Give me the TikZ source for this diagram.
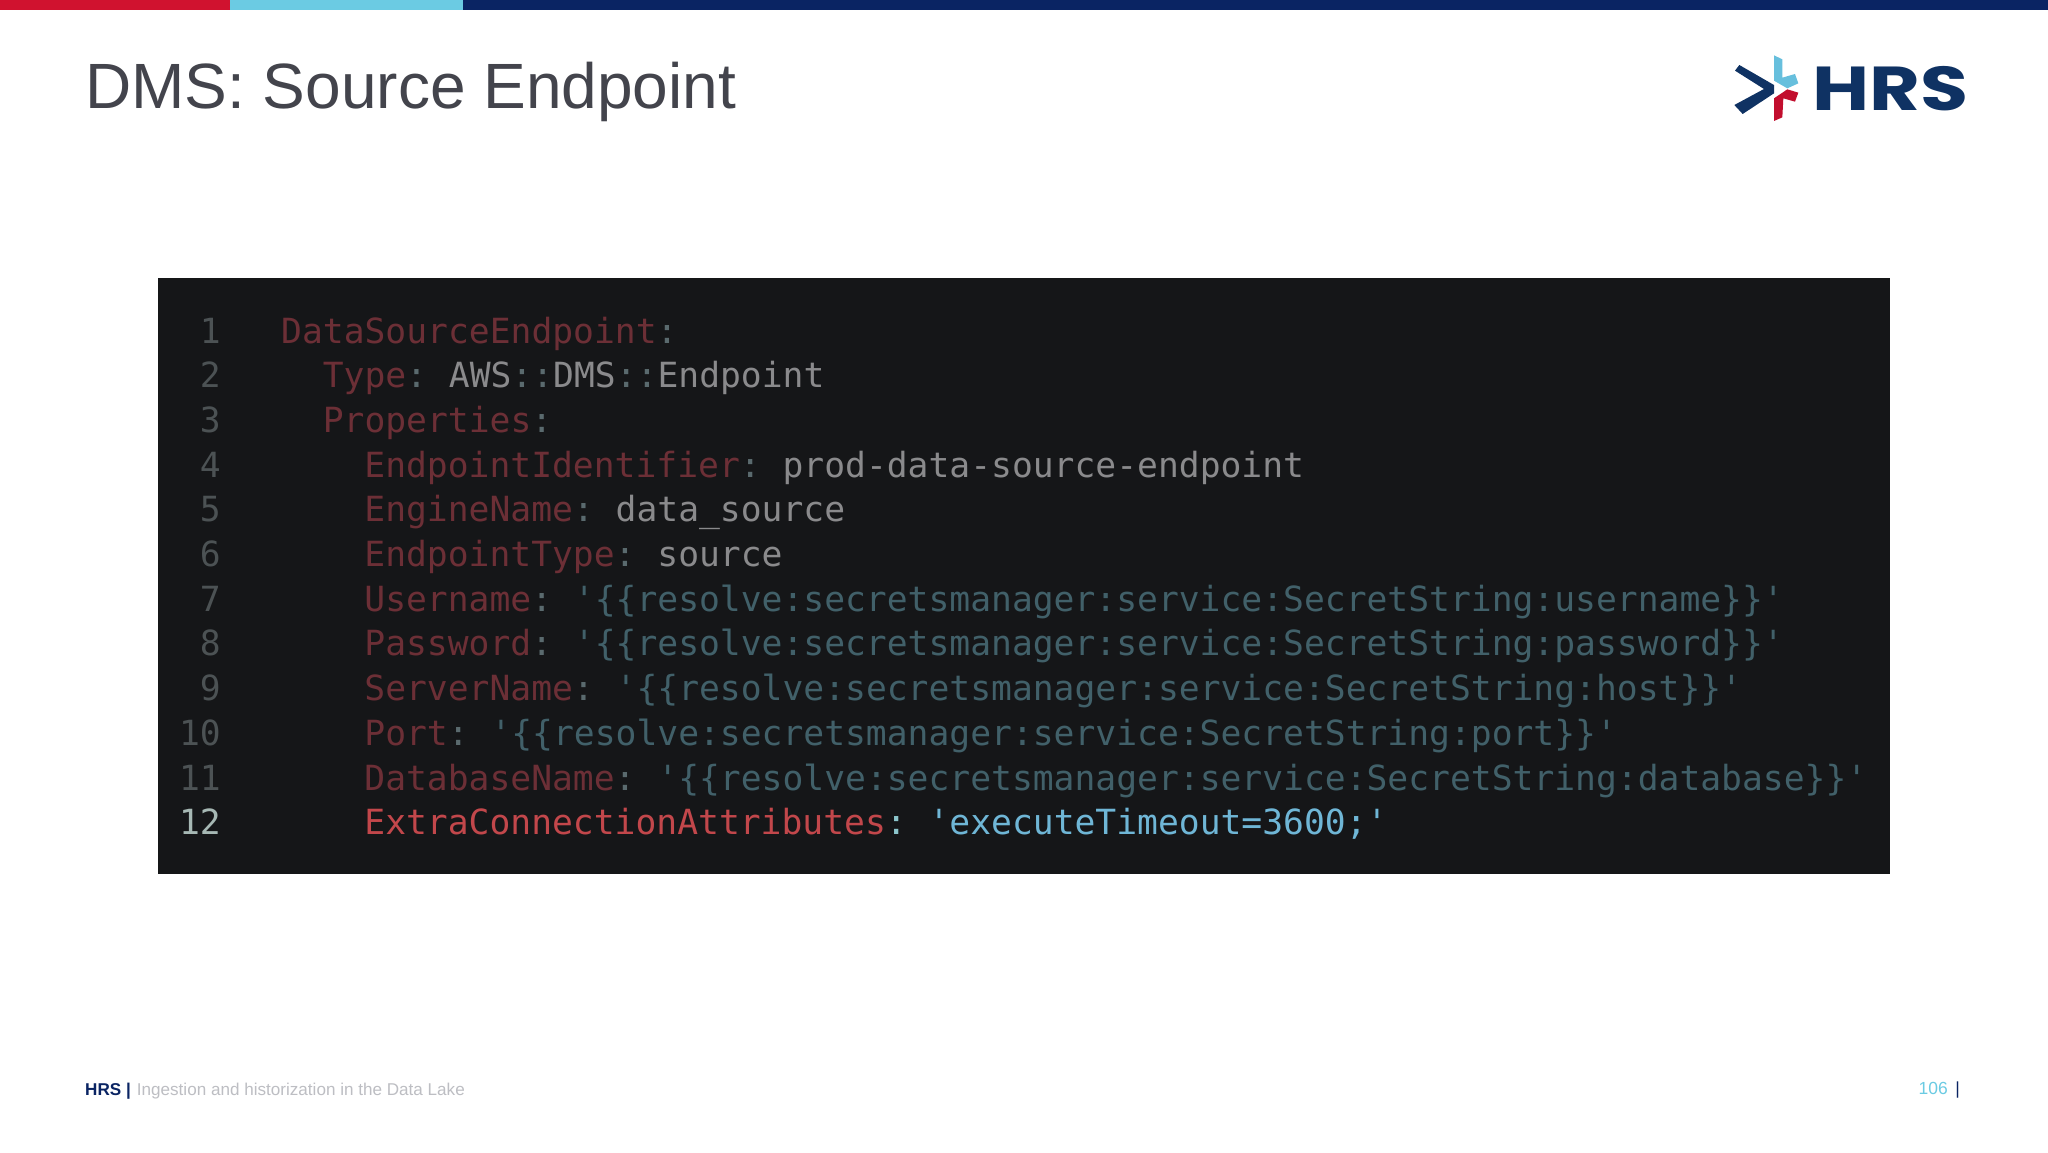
\documentclass[tikz,border=0pt]{standalone}
\usepackage{graphicx}
\usepackage{fontspec}
\setmainfont{Liberation Sans}
\newfontfamily\codefont{DejaVu Sans Mono}
\newfontfamily\logofont{Poppins}
\definecolor{navy}{HTML}{0A2463}
\definecolor{logonavy}{HTML}{0F3263}
\definecolor{brandred}{HTML}{D0122F}
\definecolor{logored}{HTML}{C20E2E}
\definecolor{cyanbar}{HTML}{6BCBE3}
\definecolor{logocyan}{HTML}{67BFDD}
\definecolor{titlegray}{HTML}{43444C}
\definecolor{footgray}{HTML}{BDBEC3}
\definecolor{panel}{HTML}{151618}
\definecolor{numdim}{HTML}{4C5254}
\definecolor{numhi}{HTML}{A6B8B4}
\definecolor{keydim}{HTML}{6C2F36}
\definecolor{keyhi}{HTML}{C2474B}
\definecolor{punct}{HTML}{5A6A6E}
\definecolor{punchi}{HTML}{8CC6CC}
\definecolor{plain}{HTML}{8A8A8C}
\definecolor{strdim}{HTML}{416069}
\definecolor{strhi}{HTML}{6FB6D6}
\newcommand{\gp}{ \hspace{-6pt}}
\newcommand{\ky}[1]{\textcolor{keydim}{#1}\textcolor{punct}{:}}
\newcommand{\pl}[1]{\textcolor{plain}{#1}}
\newcommand{\st}[1]{\textcolor{strdim}{#1}}
\newcommand{\res}[1]{\st{'\{\{resolve:secretsmanager:service:SecretString:#1\}\}'}}
\tikzset{
  codeline/.style={anchor=base west,inner sep=0pt,font=\codefont\fontsize{34.65}{40}\selectfont},
  lineno/.style={anchor=base east,inner sep=0pt,text=numdim,font=\codefont\fontsize{34.65}{40}\selectfont},
  bar/.style={fill=#1,draw=none},
  logopart/.style={fill=#1,draw=none}
}
\begin{document}
\begin{tikzpicture}[x=1pt,y=-1pt]
\useasboundingbox (0,0) rectangle (2048,1152);
\fill[white] (0,0) rectangle (2048,1152);
\fill[bar=brandred] (0,0) rectangle (230,9.5);
\fill[bar=cyanbar] (230,0) rectangle (463,9.5);
\fill[bar=navy] (463,0) rectangle (2048,9.5);
\node[anchor=base west,inner sep=0pt,text=titlegray,font=\fontsize{64}{70}\selectfont] (title) at (85,108) {DMS: Source Endpoint};
% logo
\begin{scope}[shift={(1700,30)},x=0.3333pt,y=-0.3333pt]
\fill[logopart=logonavy] (118,105)--(222,165)--(222,190)--(128,252)--(103,225)--(192,177)--(105,122)--cycle;
\fill[logopart=logocyan] (222,76)--(247,88)--(247,143)--(285,132)--(295,160)--(262,175)--(222,152)--cycle;
\fill[logopart=logored] (222,273)--(222,205)--(262,178)--(295,188)--(285,215)--(250,205)--(247,262)--cycle;
\end{scope}
\node[anchor=base west,inner sep=0pt,text=logonavy,font=\logofont\bfseries\fontsize{62}{66}\selectfont] (logotext) at (1812,110) {\scalebox{1.26}[1]{HRS}};
% code panel
\fill[panel] (158,278) rectangle (1890,874);
\foreach \n/\y in {1/343,2/387.7,3/432.4,4/477.1,5/521.8,6/566.5,7/611.2,8/655.9,9/700.6,10/745.3,11/790}{
  \node[lineno] (n\n) at (221,\y) {\n};
}
\node[lineno,text=numhi] (n12) at (221,834.7) {12};
\node[codeline] (l1) at (281,343) {\ky{DataSourceEndpoint}};
\node[codeline] (l2) at (322.6,387.7) {\ky{Type}\gp\pl{AWS}\textcolor{punct}{::}\pl{DMS}\textcolor{punct}{::}\pl{Endpoint}};
\node[codeline] (l3) at (322.6,432.4) {\ky{Properties}};
\node[codeline] (l4) at (364.2,477.1) {\ky{EndpointIdentifier}\gp\pl{prod-data-source-endpoint}};
\node[codeline] (l5) at (364.2,521.8) {\ky{EngineName}\gp\pl{data\_source}};
\node[codeline] (l6) at (364.2,566.5) {\ky{EndpointType}\gp\pl{source}};
\node[codeline] (l7) at (364.2,611.2) {\ky{Username}\gp\res{username}};
\node[codeline] (l8) at (364.2,655.9) {\ky{Password}\gp\res{password}};
\node[codeline] (l9) at (364.2,700.6) {\ky{ServerName}\gp\res{host}};
\node[codeline] (l10) at (364.2,745.3) {\ky{Port}\gp\res{port}};
\node[codeline] (l11) at (364.2,790) {\ky{DatabaseName}\gp\res{database}};
\node[codeline] (l12) at (364.2,834.7) {\textcolor{keyhi}{ExtraConnectionAttributes}\textcolor{punchi}{:}\gp\textcolor{strhi}{'executeTimeout=3600;'}};
% footer
\node[anchor=base west,inner sep=0pt,font=\fontsize{17.1}{20}\selectfont] (foot) at (85,1095) {\textcolor{navy}{\bfseries HRS |}\hspace{1.3pt} \textcolor{footgray}{Ingestion and historization in the Data Lake}};
\node[anchor=base east,inner sep=0pt,font=\fontsize{17.5}{20}\selectfont,text=cyanbar] (page) at (1948,1094.5) {106};
\node[anchor=base east,inner sep=0pt,font=\fontsize{17.5}{20}\selectfont,text=navy] (pagebar) at (1960,1094.5) {|};
\end{tikzpicture}
\end{document}
